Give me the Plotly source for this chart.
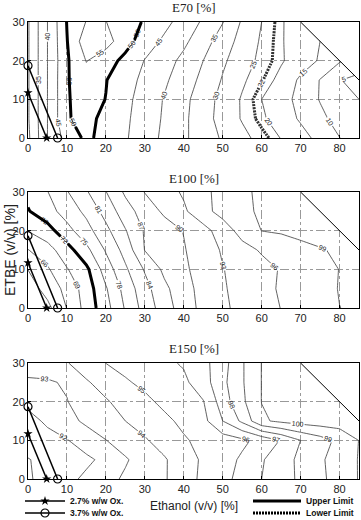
import plotly.graph_objects as go

# ---------------- data ----------------
ethanol = [0, 5, 10, 15, 20, 25, 30, 35, 40, 45, 50, 55, 60, 65, 70, 75, 80, 85]   # x grid, % v/v
etbe = [0, 5, 10, 15, 20, 25, 30]                                                   # y grid, % v/v
N = None  # outside the blend region (ethanol + ETBE > 100 %)

# E70 [%]  rows = ETBE 0..30, columns = ethanol 0..85
e70 = [
    [29.0, 40.0, 47.0, 51.0, 48.3, 45.5, 42.3, 39.0, 35.8, 32.6, 29.4, 26.4, 23.3, 19.8, 16.8, 13.5, 10.1, 6.5],
    [29.5, 40.0, 49.6, 51.5, 48.6, 45.8, 42.7, 39.4, 36.0, 32.0, 28.2, 24.6, 20.8, 17.5, 14.4, 11.3, 8.0, 6.0],
    [29.5, 40.0, 49.6, 52.0, 49.9, 46.3, 42.9, 39.7, 36.3, 32.4, 28.4, 24.5, 20.0, 16.9, 13.5, 9.7, 7.0, 5.0],
    [29.5, 40.0, 49.6, 53.0, 50.2, 46.9, 43.8, 40.8, 37.4, 33.75, 29.6, 25.8, 22.3, 18.6, 14.1, 9.8, 5.2, 3.5],
    [29.5, 40.0, 49.4, 55.2, 52.2, 48.6, 44.8, 41.9, 38.8, 35.0, 30.8, 27.3, 23.8, 20.5, 17.5, 14.5, 10.5, N],
    [29.5, 40.0, 49.8, 58.0, 57.0, 52.0, 47.5, 44.1, 41.0, 37.1, 32.6, 28.2, 24.4, 20.4, 17.5, 15.0, N, N],
    [29.5, 40.0, 50.2, 55.2, 55.1, 52.3, 49.5, 46.4, 43.0, 39.3, 35.2, 29.4, 25.0, 20.6, 16.5, N, N, N],
]

# E100 [%]
e100 = [
    [60.5, 62.2, 66.1, 70.1, 73.9, 78.3, 82.2, 85.5, 88.6, 90.8, 92.5, 93.8, 94.9, 96.06, 97.0, 98.0, 98.98, 99.3],
    [61.5, 64.1, 66.9, 70.4, 74.7, 79.1, 82.9, 86.3, 88.9, 91.0, 92.7, 94.0, 95.2, 96.3, 97.2, 98.2, 99.1, 99.3],
    [63.05, 65.6, 68.8, 71.35, 76.4, 80.5, 84.3, 87.65, 89.5, 91.2, 92.9, 94.0, 95.1, 96.2, 97.2, 98.1, 99.05, 99.3],
    [65.9, 67.8, 70.8, 74.2, 78.3, 82.1, 87.1, 88.5, 89.8, 91.5, 93.3, 95.0, 96.3, 97.5, 98.6, 98.9, 99.2, 99.3],
    [69.1, 70.8, 74.0, 76.9, 80.2, 83.8, 87.3, 88.7, 90.1, 91.9, 94.5, 97.1, 99.05, 99.3, 99.4, 99.6, 99.7, N],
    [71.8, 73.8, 76.3, 78.7, 82.1, 85.65, 88.4, 90.5, 92.5, 95.1, 97.0, 98.7, 99.2, 99.4, 99.5, 99.6, N, N],
    [72.8, 74.9, 77.8, 80.7, 83.9, 87.5, 90.1, 91.7, 93.4, 95.3, 97.0, 98.8, 99.2, 99.4, 99.5, N, N, N],
]

# E150 [%]
e150 = [
    [90.9, 91.3, 91.73, 92.2, 92.7, 93.14, 93.5, 93.9, 94.58, 95.2, 95.72, 96.3, 97.0, 97.58, 98.18, 98.8, 99.4, 100.05],
    [90.95, 91.3, 91.5, 91.8, 92.26, 92.9, 93.43, 93.9, 94.54, 95.15, 95.6, 96.15, 96.9, 97.6, 98.2, 98.85, 99.45, 100.05],
    [91.5, 91.8, 91.95, 92.5, 92.98, 93.46, 93.9, 94.4, 94.9, 95.25, 95.5, 95.8, 96.3, 97.07, 98.0, 98.6, 99.25, 100.02],
    [91.8, 92.1, 92.7, 93.18, 93.6, 94.0, 94.4, 94.8, 95.2, 95.7, 97.0, 98.2, 99.85, 100.2, 100.4, 100.5, 100.5, 100.6],
    [92.15, 92.5, 92.97, 93.45, 93.9, 94.37, 94.8, 95.2, 95.6, 95.95, 97.5, 98.8, 100.02, 100.3, 100.5, 100.6, 100.7, N],
    [92.9, 92.9, 93.1, 93.9, 94.4, 94.9, 95.2, 95.5, 95.8, 96.55, 97.75, 98.9, 100.02, 100.4, 100.6, 100.7, N, N],
    [93.3, 93.5, 93.95, 94.5, 95.01, 95.27, 95.5, 95.8, 96.1, 96.7, 97.6, 98.9, 100.02, 100.4, 100.6, N, N, N],
]

panel_titles = ["E70 [%]", "E100 [%]", "E150 [%]"]
panel_data = [e70, e100, e150]
thin_levels = [(5, 55, 5), (63, 99, 3), (91, 100, 1)]     # start, end, step
upper_limit = [50, 72, None]
lower_limit = [22, None, None]

ox27_ethanol = [0, 4.8]
ox27_etbe = [11.7, 0]
ox37_ethanol = [0, 7.6]
ox37_etbe = [18.7, 0]

boundary_ethanol = [70, 85]      # ethanol + ETBE = 100 %
boundary_etbe = [30, 15]

x_range = [0, 85]
y_range = [0, 30]
x_ticks = [0, 10, 20, 30, 40, 50, 60, 70, 80]
y_ticks = [0, 10, 20, 30]

# ---------------- layout geometry ----------------
W, H = 361, 520
x_dom = [28 / W, 359 / W]
y_doms = [[1 - 138 / H, 1 - 22 / H], [1 - 308 / H, 1 - 192 / H], [1 - 479 / H, 1 - 363 / H]]
title_y = [1 - 8 / H, 1 - 178 / H, 1 - 348 / H]

fig = go.Figure()
line_col = "#3a3a3a"
lab_font = dict(family="Liberation Sans", size=7, color="#222")

for i in range(3):
    xa = "x" if i == 0 else f"x{i+1}"
    ya = "y" if i == 0 else f"y{i+1}"
    z = panel_data[i]
    s, e, st = thin_levels[i]
    fig.add_trace(go.Contour(
        x=ethanol, y=etbe, z=z, xaxis=xa, yaxis=ya,
        contours=dict(coloring="none", start=s, end=e, size=st, showlabels=True, labelfont=lab_font),
        line=dict(color=line_col, width=0.8, smoothing=0),
        showscale=False, connectgaps=False, hoverinfo="skip", showlegend=False))
    if upper_limit[i] is not None:
        fig.add_trace(go.Contour(
            x=ethanol, y=etbe, z=z, xaxis=xa, yaxis=ya,
            contours=dict(coloring="none", start=upper_limit[i], end=upper_limit[i], size=1,
                          showlabels=True, labelfont=lab_font),
            line=dict(color="black", width=3, smoothing=0),
            showscale=False, connectgaps=False, hoverinfo="skip", showlegend=False))
    if lower_limit[i] is not None:
        fig.add_trace(go.Contour(
            x=ethanol, y=etbe, z=z, xaxis=xa, yaxis=ya,
            contours=dict(coloring="none", start=lower_limit[i], end=lower_limit[i], size=1,
                          showlabels=True, labelfont=lab_font),
            line=dict(color="#333", width=3, dash="2px,1px", smoothing=0),
            showscale=False, connectgaps=False, hoverinfo="skip", showlegend=False))
    # blank region beyond ethanol + ETBE = 100 %
    fig.add_trace(go.Scatter(
        x=boundary_ethanol + [x_range[1], boundary_ethanol[0]],
        y=boundary_etbe + [y_range[1], boundary_etbe[0]],
        xaxis=xa, yaxis=ya, mode="lines", fill="toself", fillcolor="white",
        line=dict(width=0, color="white"), hoverinfo="skip", showlegend=False))
    fig.add_trace(go.Scatter(
        x=boundary_ethanol, y=boundary_etbe, xaxis=xa, yaxis=ya, mode="lines",
        line=dict(color="black", width=1), hoverinfo="skip", showlegend=False))
    # oxygen limits
    fig.add_trace(go.Scatter(
        x=ox27_ethanol, y=ox27_etbe, xaxis=xa, yaxis=ya, mode="lines+markers",
        line=dict(color="black", width=1.5),
        marker=dict(symbol="star", size=7, color="black"),
        cliponaxis=False, name="2.7% w/w Ox.", legend="legend",
        showlegend=(i == 2), hoverinfo="skip"))
    fig.add_trace(go.Scatter(
        x=ox37_ethanol, y=ox37_etbe, xaxis=xa, yaxis=ya, mode="lines+markers",
        line=dict(color="black", width=1.5),
        marker=dict(symbol="circle-open", size=8, color="black", line=dict(width=1.2)),
        cliponaxis=False, name="3.7% w/w Ox.", legend="legend2",
        showlegend=(i == 2), hoverinfo="skip"))

# legend entries for the limits
fig.add_trace(go.Scatter(x=[None], y=[None], xaxis="x3", yaxis="y3", mode="lines",
                         line=dict(color="black", width=3), name="Upper Limit", legend="legend3"))
fig.add_trace(go.Scatter(x=[None], y=[None], xaxis="x3", yaxis="y3", mode="lines",
                         line=dict(color="black", width=3, dash="2px,1px"), name="Lower Limit", legend="legend4"))

axis_common = dict(
    showgrid=True, gridcolor="#999999", griddash="dashdot", gridwidth=0.8,
    showline=True, linecolor="black", linewidth=1, mirror=True,
    ticks="inside", ticklen=3, tickcolor="black", zeroline=False,
    tickfont=dict(family="Liberation Sans", size=11, color="#222"), fixedrange=True)

layout = dict(
    width=W, height=H, margin=dict(l=0, r=0, t=0, b=0, autoexpand=False),
    paper_bgcolor="white", plot_bgcolor="white", showlegend=True,
    font=dict(family="Liberation Sans", color="#222"))

for i in range(3):
    xk = "xaxis" if i == 0 else f"xaxis{i+1}"
    yk = "yaxis" if i == 0 else f"yaxis{i+1}"
    ya = "y" if i == 0 else f"y{i+1}"
    xa = "x" if i == 0 else f"x{i+1}"
    layout[xk] = dict(axis_common, range=x_range, tickvals=x_ticks, domain=x_dom, anchor=ya)
    layout[yk] = dict(axis_common, range=y_range, tickvals=y_ticks, domain=y_doms[i], anchor=xa)

leg_font = dict(family="Liberation Sans", size=9, color="#111", weight="bold")
def leg(xpx, ypx, w, size=9):
    return dict(x=xpx / W, y=1 - ypx / H, xanchor="left", yanchor="middle",
                bgcolor="rgba(0,0,0,0)", font=dict(leg_font, size=size), itemwidth=w, borderwidth=0)

layout["legend"] = leg(20, 501, 40, 8.5)
layout["legend2"] = leg(20, 513, 40, 8.5)
layout["legend3"] = leg(248, 501, 48, 8.5)
layout["legend4"] = leg(248, 513, 48, 8.5)

ann = []
for i in range(3):
    ann.append(dict(text=panel_titles[i], x=(x_dom[0] + x_dom[1]) / 2, y=title_y[i],
                    xref="paper", yref="paper", showarrow=False, xanchor="center", yanchor="middle",
                    font=dict(family="Liberation Serif", size=13, color="#222")))
ann.append(dict(text="Ethanol (v/v) [%]", x=193.5 / W, y=1 - 506 / H, xref="paper", yref="paper",
                showarrow=False, xanchor="center", yanchor="middle",
                font=dict(family="Liberation Sans", size=12, color="#222")))
ann.append(dict(text="ETBE (v/v) [%]", x=0, y=1 - 250 / H, xref="paper", yref="paper",
                showarrow=False, xanchor="left", yanchor="middle", textangle=-90,
                font=dict(family="Liberation Sans", size=14, color="#222")))
layout["annotations"] = ann

fig.update_layout(**layout)
fig.write_html("out.html")
